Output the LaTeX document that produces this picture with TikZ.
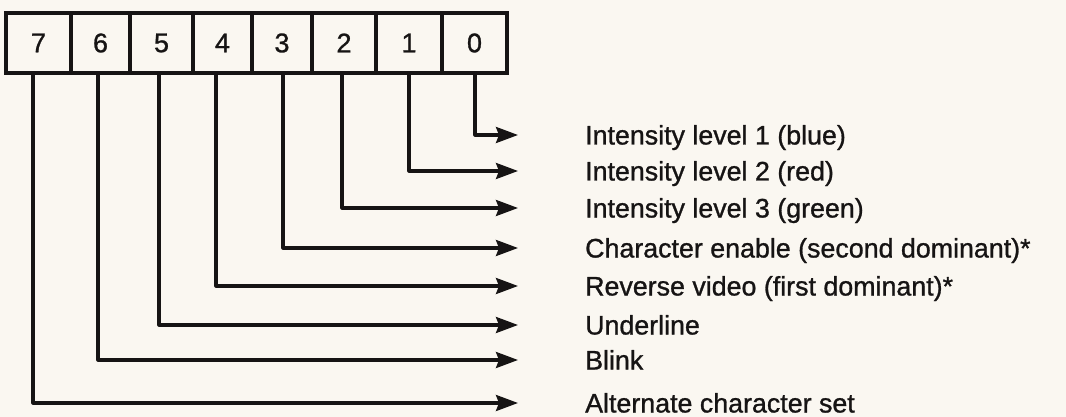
\documentclass[tikz,border=0pt]{standalone}
\usepackage{fontspec}
\setmainfont{Liberation Sans}
\newfontfamily\labfont[FakeBold=1]{Liberation Sans}
\usetikzlibrary{arrows.meta}
\definecolor{paper}{RGB}{250,247,241}
\definecolor{ink}{RGB}{22,20,20}
\begin{document}
\begin{tikzpicture}[x=1pt,y=-1pt,
  cell/.style={draw=ink,line width=3.4pt,minimum height=60pt,inner sep=0pt,font=\labfont\fontsize{27}{30}\selectfont,text=ink},
  lab/.style={anchor=west,inner sep=0pt,text height=19pt,text depth=0pt,font=\labfont\fontsize{26.8}{30}\selectfont,text=ink},
  arr/.style={draw=ink,line width=3.1pt,line join=round,-{Stealth[length=22pt,width=16pt,inset=3pt]}}]
\fill[paper] (0,0) rectangle (1066,417);
\useasboundingbox (0,0) rectangle (1066,417);
% cells
\node[cell,minimum width=65pt] (b7) at (38.5,43) {7};
\node[cell,minimum width=59pt] (b6) at (100.5,43) {6};
\node[cell,minimum width=63pt] (b5) at (161.5,43) {5};
\node[cell,minimum width=59pt] (b4) at (222.5,43) {4};
\node[cell,minimum width=60pt] (b3) at (282,43) {3};
\node[cell,minimum width=64pt] (b2) at (344,43) {2};
\node[cell,minimum width=66pt] (b1) at (409,43) {1};
\node[cell,minimum width=65pt] (b0) at (474.5,43) {0};
% labels
\node[lab] (l0) at (585,135) {Intensity level 1 (blue)};
\node[lab] (l1) at (585,171) {Intensity level 2 (red)};
\node[lab] (l2) at (585,208) {Intensity level 3 (green)};
\node[lab] (l3) at (585,248) {Character enable (second dominant)*};
\node[lab] (l4) at (585,286) {Reverse video (first dominant)*};
\node[lab] (l5) at (585,325) {Underline};
\node[lab] (l6) at (585,360) {Blink};
\node[lab] (l7) at (585,403) {Alternate character set};
% connectors
\draw[arr] ([xshift=0.5pt]b0.south) |- ([xshift=-67pt]l0.west);
\draw[arr] ([xshift=0pt]b1.south) |- ([xshift=-67pt]l1.west);
\draw[arr] ([xshift=-2pt]b2.south) |- ([xshift=-67pt]l2.west);
\draw[arr] ([xshift=1pt]b3.south) |- ([xshift=-67pt]l3.west);
\draw[arr] ([xshift=-6.5pt]b4.south) |- ([xshift=-67pt]l4.west);
\draw[arr] ([xshift=-2.5pt]b5.south) |- ([xshift=-67pt]l5.west);
\draw[arr] ([xshift=-2.5pt]b6.south) |- ([xshift=-67pt]l6.west);
\draw[arr] ([xshift=-5.5pt]b7.south) |- ([xshift=-67pt]l7.west);
\end{tikzpicture}
\end{document}
